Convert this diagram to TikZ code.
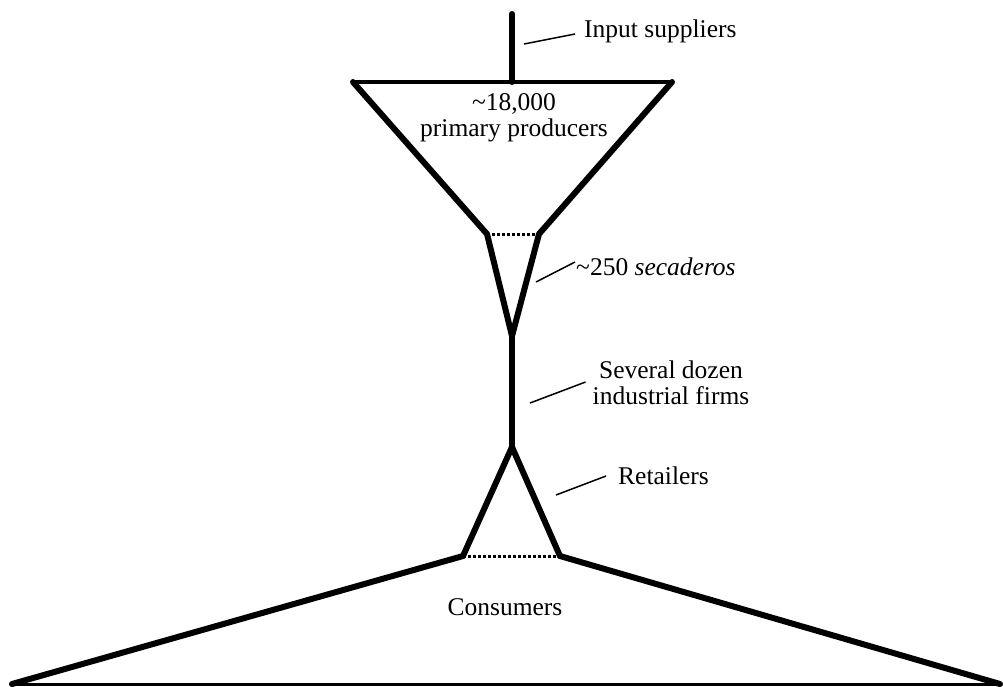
\documentclass[tikz,border=0pt]{standalone}
\usepackage{fontspec}
\setmainfont{Liberation Serif}
\begin{document}
\begin{tikzpicture}[x=1pt,y=-1pt,
  thickline/.style={line width=6pt,line join=round,line cap=round},
  leader/.style={line width=1.5pt},
  dotline/.style={line width=3pt,dash pattern=on 3pt off 2pt},
  lbl/.style={font=\fontsize{25.5}{26}\selectfont,inner sep=0pt,align=center}]
\useasboundingbox (0,0) rectangle (1003,686);
% key points
\coordinate (stemtop) at (512,14);
\coordinate (stembot) at (512,82);
\coordinate (fl) at (353,82);
\coordinate (fr) at (672,82);
\coordinate (nl) at (487,234);
\coordinate (nr) at (539,234);
\coordinate (vtip) at (512,336);
\coordinate (apex) at (512,447);
\coordinate (rl) at (463,556);
\coordinate (rr) at (560,556);
\coordinate (bl) at (12,684);
\coordinate (br) at (1000,684);
% shapes
\draw[thickline] (stemtop) -- (stembot);
\draw[line width=4.5pt,line cap=round] (fl) -- (fr);
\draw[thickline] (fl) -- (nl) -- (vtip) -- (nr) -- (fr);
\draw[dotline] (nl) -- (nr);
\draw[thickline] (vtip) -- (apex);
\draw[thickline] (rl) -- (apex) -- (rr);
\draw[dotline] (rl) -- (rr);
\draw[thickline] (rl) -- (bl);
\draw[thickline] (rr) -- (br);
\draw[line width=3pt] (bl) -- (br);
% labels
\node[lbl,anchor=west] (inp) at (584,31) {Input suppliers};
\node[lbl] (prod) at (514,118) {\textasciitilde18,000\\primary producers};
\node[lbl,anchor=west] (sec) at (576,267) {\textasciitilde250 \textit{secaderos}};
\node[lbl] (ind) at (671,383) {Several dozen\\industrial firms};
\node[lbl,anchor=west] (ret) at (618,476) {Retailers};
\node[lbl] (con) at (505,607) {Consumers};
% leaders
\coordinate (l1a) at (524,44);
\coordinate (l2a) at (536,282);
\coordinate (l3a) at (530,403);
\coordinate (l4a) at (556,495);
\draw[leader] (l1a) -- ([xshift=-9pt,yshift=-3pt]inp.west);
\draw[leader] (l2a) -- ([xshift=-1pt,yshift=5pt]sec.west);
\draw[leader] (l3a) -- ([xshift=-7pt,yshift=1pt]ind.west);
\draw[leader] (l4a) -- ([xshift=-12pt]ret.west);
\end{tikzpicture}
\end{document}
